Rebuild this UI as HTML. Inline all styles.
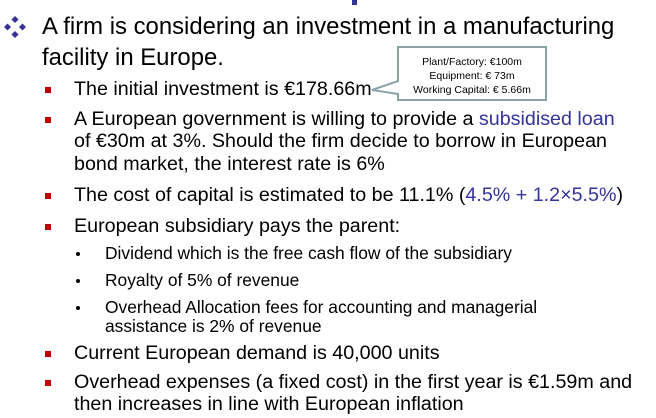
<!DOCTYPE html>
<html><head><meta charset="utf-8"><style>
body{margin:0;width:656px;height:418px;background:#fff;position:relative;overflow:hidden;font-family:"Liberation Sans",Arial,sans-serif;color:#000}
.t{position:absolute;white-space:nowrap;line-height:1}
.l1{font-size:23.9px;left:42px}
.l2{font-size:19.7px;left:74px}
.l3{font-size:17.4px;left:105px}
.sq{position:absolute;left:45px;width:6px;height:6px;background:#c00000}
.dot{position:absolute;left:76px;width:4px;height:4px;border-radius:2px;background:#000}
.b{color:#333399}
</style></head><body>
<div style="position:absolute;left:352px;top:0;width:5px;height:5px;background:#333399"></div>
<svg style="position:absolute;left:4px;top:16px" width="22" height="22" viewBox="0 0 22 22">
<g fill="#333399"><rect x="8.5" y="1" width="5" height="5" transform="rotate(45 11 3.5)"/><rect x="8.5" y="16" width="5" height="5" transform="rotate(45 11 18.5)"/><rect x="1" y="8.5" width="5" height="5" transform="rotate(45 3.5 11)"/><rect x="16" y="8.5" width="5" height="5" transform="rotate(45 18.5 11)"/></g></svg>
<div class="t l1" style="top:15px">A firm is considering an investment in a manufacturing</div>
<div class="t l1" style="top:46px">facility in Europe.</div>

<div class="sq" style="top:87px"></div>
<div class="t l2" style="top:80px">The initial investment is €178.66m</div>
<svg style="position:absolute;left:360px;top:44px" width="190" height="60">
<path d="M38,3 H186 V56 H38 V50 L12,46 L38,37 Z" fill="#fff" stroke="#8aa3a8" stroke-width="2"/>
<text x="112" y="21" font-size="10.5" text-anchor="middle" font-family="Liberation Sans, Arial, sans-serif">Plant/Factory: €100m</text>
<text x="112" y="35" font-size="10.5" text-anchor="middle" font-family="Liberation Sans, Arial, sans-serif">Equipment: € 73m</text>
<text x="112" y="49" font-size="10.5" text-anchor="middle" font-family="Liberation Sans, Arial, sans-serif">Working Capital: € 5.66m</text>
</svg>

<div class="sq" style="top:117px"></div>
<div class="t l2" style="top:110px">A European government is willing to provide a <span class="b">subsidised loan</span></div>
<div class="t l2" style="top:132px">of €30m at 3%. Should the firm decide to borrow in European</div>
<div class="t l2" style="top:155px">bond market, the interest rate is 6%</div>

<div class="sq" style="top:193px"></div>
<div class="t l2" style="top:186px">The cost of capital is estimated to be 11.1% (<span class="b">4.5% + 1.2×5.5%</span>)</div>

<div class="sq" style="top:224px"></div>
<div class="t l2" style="top:217px">European subsidiary pays the parent:</div>

<div class="dot" style="top:252px"></div>
<div class="t l3" style="top:245px">Dividend which is the free cash flow of the subsidiary</div>
<div class="dot" style="top:279px"></div>
<div class="t l3" style="top:272px">Royalty of 5% of revenue</div>
<div class="dot" style="top:306px"></div>
<div class="t l3" style="top:299px">Overhead Allocation fees for accounting and managerial</div>
<div class="t l3" style="top:318px">assistance is 2% of revenue</div>

<div class="sq" style="top:351px"></div>
<div class="t l2" style="top:344px">Current European demand is 40,000 units</div>
<div class="sq" style="top:380px"></div>
<div class="t l2" style="top:373px">Overhead expenses (a fixed cost) in the first year is €1.59m and</div>
<div class="t l2" style="top:395px">then increases in line with European inflation</div>
</body></html>
